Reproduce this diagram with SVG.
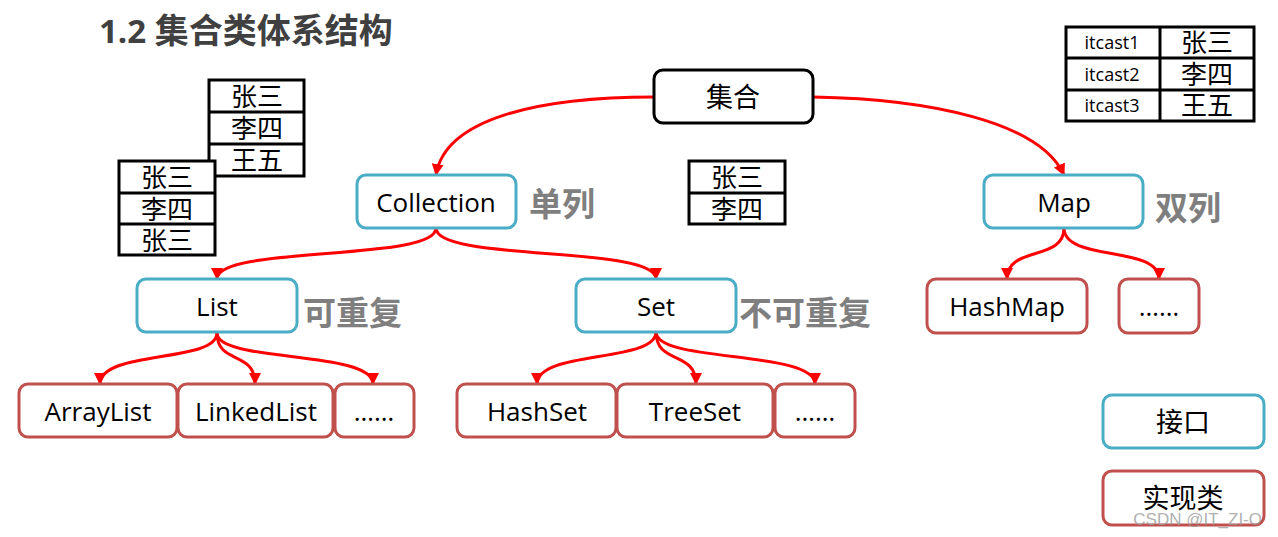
<svg xmlns="http://www.w3.org/2000/svg" width="1278" height="537" viewBox="0 0 1278 537">
<style>
.bg{fill:#fff}
.root{fill:#fff;stroke:#000;stroke-width:3}
.itf{fill:#fff;stroke:#4BACC6;stroke-width:3}
.impl{fill:#fff;stroke:#C0504D;stroke-width:3}
.lbl{font-family:"Open Sans","Noto Sans CJK SC",sans-serif;font-size:26px;fill:#000;text-anchor:middle}
.cjk{font-family:"Noto Sans CJK SC",sans-serif;font-size:27px;fill:#000;text-anchor:middle}
.note{font-family:"Noto Sans CJK SC",sans-serif;font-size:33px;font-weight:bold;fill:#7F7F7F}
.tbl{fill:#fff;stroke:#000;stroke-width:3}
.tline{stroke:#000;stroke-width:3}
.ttxt{font-family:"Noto Sans CJK SC",sans-serif;font-size:26px;fill:#000;text-anchor:middle}
.itc{font-family:"Open Sans",sans-serif;font-size:18px;fill:#000;text-anchor:middle}
.conn{fill:none;stroke:#FF0000;stroke-width:3;marker-end:url(#arr)}
</style>
<defs>
<marker id="arr" markerUnits="userSpaceOnUse" markerWidth="12" markerHeight="12" refX="11" refY="6" orient="auto" viewBox="0 0 12 12">
<path d="M0,0 L12,6 L0,12 z" fill="#FF0000"/>
</marker>
</defs>
<rect class="bg" x="0" y="0" width="1278" height="537"/>
<text x="99" y="43" font-family="Open Sans,Noto Sans CJK SC,sans-serif" font-size="33" font-weight="bold" fill="#404040">1.2 <tspan font-family="Noto Sans CJK SC,sans-serif" font-size="34">集合类体系结构</tspan></text>

<g id="table-topright">
<rect class="tbl" x="1066" y="27" width="188" height="94"/>
<line class="tline" x1="1066" y1="58" x2="1254" y2="58"/>
<line class="tline" x1="1066" y1="90" x2="1254" y2="90"/>
<line class="tline" x1="1160" y1="27" x2="1160" y2="121"/>
<text class="itc" x="1112" y="49">itcast1</text>
<text class="itc" x="1112" y="81">itcast2</text>
<text class="itc" x="1112" y="112">itcast3</text>
<text class="ttxt" x="1207" y="52">张三</text>
<text class="ttxt" x="1207" y="84">李四</text>
<text class="ttxt" x="1207" y="115">王五</text>
</g>

<g id="table-a">
<rect class="tbl" x="209" y="80" width="95" height="96"/>
<line class="tline" x1="209" y1="112" x2="304" y2="112"/>
<line class="tline" x1="209" y1="144" x2="304" y2="144"/>
<text class="ttxt" x="257" y="106">张三</text>
<text class="ttxt" x="257" y="138">李四</text>
<text class="ttxt" x="257" y="170">王五</text>
</g>

<g id="table-b">
<rect class="tbl" x="119" y="161" width="96" height="94"/>
<line class="tline" x1="119" y1="193" x2="215" y2="193"/>
<line class="tline" x1="119" y1="224" x2="215" y2="224"/>
<text class="ttxt" x="167" y="187">张三</text>
<text class="ttxt" x="167" y="219">李四</text>
<text class="ttxt" x="167" y="250">张三</text>
</g>

<g id="table-c">
<rect class="tbl" x="689" y="161" width="96" height="63"/>
<line class="tline" x1="689" y1="193" x2="785" y2="193"/>
<text class="ttxt" x="737" y="187">张三</text>
<text class="ttxt" x="737" y="219">李四</text>
</g>

<g id="connectors">
<path class="conn" d="M654,97 C540,97 445,118 436,175"/>
<path class="conn" d="M813,97 C930,99 1040,122 1064,175"/>
<path class="conn" d="M436,228 C436,262 217,245 217,279"/>
<path class="conn" d="M436,228 C436,262 656,245 656,279"/>
<path class="conn" d="M1064,228 C1064,262 1007,245 1007,279"/>
<path class="conn" d="M1064,228 C1064,262 1159,245 1159,279"/>
<path class="conn" d="M217,333 C217,363 100,350 100,384"/>
<path class="conn" d="M217,333 C217,365 255,350 255,384"/>
<path class="conn" d="M217,333 C217,363 373,350 373,384"/>
<path class="conn" d="M656,332 C656,363 537,350 537,384"/>
<path class="conn" d="M656,332 C656,365 696,350 696,384"/>
<path class="conn" d="M656,332 C656,363 815,350 815,384"/>
</g>

<g id="n-jihe">
<rect class="root" x="654" y="70" width="159" height="53" rx="9"/>
<text class="cjk" x="733" y="107">集合</text>
</g>
<g id="n-collection">
<rect class="itf" x="357" y="175" width="159" height="53" rx="9"/>
<text class="lbl" x="436" y="212">Collection</text>
<text class="note" x="529" y="216">单列</text>
</g>
<g id="n-map">
<rect class="itf" x="984" y="175" width="159" height="53" rx="9"/>
<text class="lbl" x="1064" y="212">Map</text>
<text class="note" x="1155" y="220">双列</text>
</g>
<g id="n-list">
<rect class="itf" x="137" y="279" width="160" height="53" rx="9"/>
<text class="lbl" x="217" y="316">List</text>
<text class="note" x="303" y="325">可重复</text>
</g>
<g id="n-set">
<rect class="itf" x="576" y="279" width="160" height="53" rx="9"/>
<text class="lbl" x="656" y="316">Set</text>
<text class="note" x="739" y="325">不可重复</text>
</g>
<g id="n-arraylist">
<rect class="impl" x="19" y="384" width="158" height="53" rx="9"/>
<text class="lbl" x="98" y="421">ArrayList</text>
</g>
<g id="n-linkedlist">
<rect class="impl" x="178" y="384" width="155" height="53" rx="9"/>
<text class="lbl" x="256" y="421">LinkedList</text>
</g>
<g id="n-list-more">
<rect class="impl" x="335" y="384" width="79" height="53" rx="9"/>
<text class="lbl" x="374" y="421">……</text>
</g>
<g id="n-hashset">
<rect class="impl" x="457" y="384" width="159" height="53" rx="9"/>
<text class="lbl" x="537" y="421">HashSet</text>
</g>
<g id="n-treeset">
<rect class="impl" x="617" y="384" width="156" height="53" rx="9"/>
<text class="lbl" x="695" y="421">TreeSet</text>
</g>
<g id="n-set-more">
<rect class="impl" x="775" y="384" width="80" height="53" rx="9"/>
<text class="lbl" x="815" y="421">……</text>
</g>
<g id="n-hashmap">
<rect class="impl" x="927" y="279" width="160" height="54" rx="9"/>
<text class="lbl" x="1007" y="316">HashMap</text>
</g>
<g id="n-map-more">
<rect class="impl" x="1119" y="279" width="80" height="54" rx="9"/>
<text class="lbl" x="1159" y="316">……</text>
</g>
<g id="legend-interface">
<rect class="itf" x="1103" y="395" width="161" height="53" rx="9"/>
<text class="cjk" x="1183" y="432">接口</text>
</g>
<g id="legend-impl">
<rect class="impl" x="1103" y="471" width="161" height="54" rx="9"/>
<text class="cjk" x="1183" y="508" font-size="29">实现类</text>
</g>
<text x="1262" y="525" font-family="Liberation Sans,sans-serif" font-size="17" fill="#9a9a9a" fill-opacity="0.8" text-anchor="end">CSDN @IT_ZI-O</text>
</svg>
